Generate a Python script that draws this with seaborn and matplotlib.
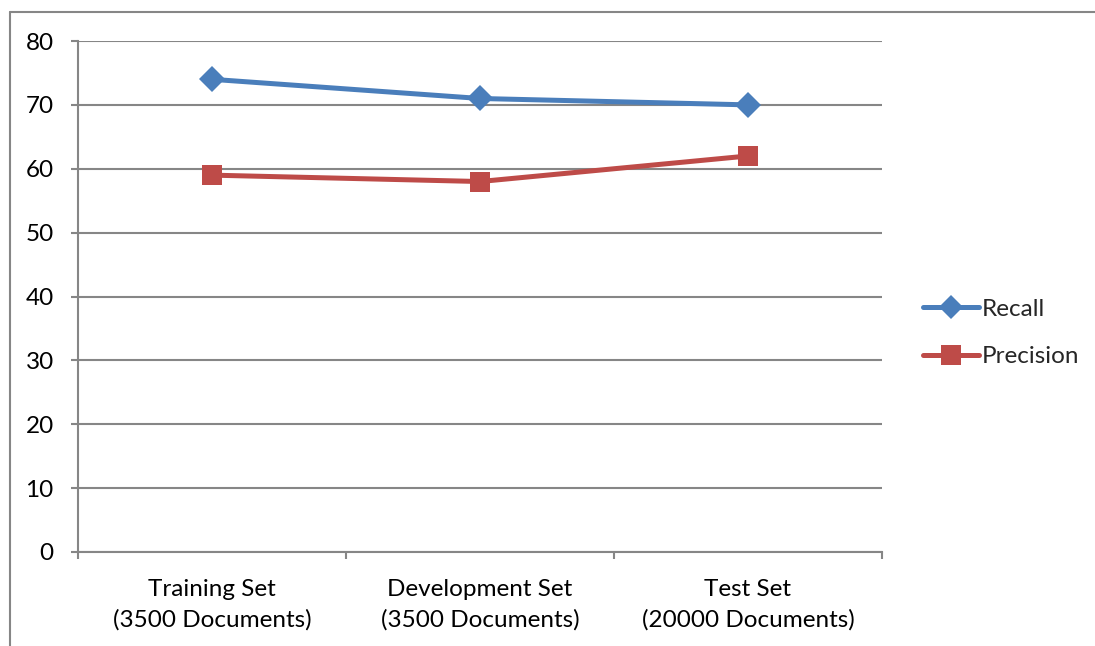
import matplotlib
matplotlib.use("Agg")
import matplotlib.pyplot as plt
import seaborn as sns
import pandas as pd
from matplotlib.lines import Line2D

# Data
categories = ["Training Set\n(3500 Documents)",
              "Development Set\n(3500 Documents)",
              "Test Set\n(20000 Documents)"]
recall = [74, 71, 70]
precision = [59, 58, 62]
y_ticks = [0, 10, 20, 30, 40, 50, 60, 70, 80]

BLUE = "#4A7EBB"
RED = "#BE4B48"
GRID = "#868686"
FS = 17.5

sns.set_theme(style="white")
plt.rcParams["font.family"] = ["Lato", "DejaVu Sans"]

df = pd.DataFrame({
    "pos": [0.5, 1.5, 2.5] * 2,
    "value": recall + precision,
    "Series": ["Recall"] * 3 + ["Precision"] * 3,
})

fig = plt.figure(figsize=(10.95, 6.46), dpi=100)
ax = fig.add_axes([78 / 1095, 94 / 646, 804 / 1095, 511 / 646])

sns.lineplot(data=df, x="pos", y="value", hue="Series", style="Series",
             palette={"Recall": BLUE, "Precision": RED},
             markers={"Recall": "D", "Precision": "s"}, dashes=False,
             linewidth=3.6, markersize=13, markeredgewidth=0,
             legend=False, ax=ax, zorder=3)
# square markers a bit larger than diamonds
for ln in ax.lines:
    if ln.get_marker() == "s":
        ln.set_markersize(14.5)
    else:
        ln.set_markersize(13.5)

ax.set_xlim(0, 3)
ax.set_ylim(0, 80)
ax.set_yticks(y_ticks)
ax.set_yticklabels([str(v) for v in y_ticks])
ax.yaxis.grid(True, color=GRID, linewidth=1.5)
ax.set_axisbelow(True)
ax.set_xticks([0.5, 1.5, 2.5])
ax.set_xticklabels(categories, linespacing=1.52)
ax.set_xticks([0, 1, 2, 3], minor=True)
ax.tick_params(axis="x", which="major", length=0, pad=19.5, labelsize=FS, colors="black")
ax.tick_params(axis="x", which="minor", length=5, width=1.5, color=GRID, direction="out", bottom=True)
ax.tick_params(axis="y", length=5, width=1.5, color=GRID, direction="out", left=True,
               pad=12.5, labelsize=FS, labelcolor="black")
ax.set_xlabel("")
ax.set_ylabel("")

for side in ["top", "right"]:
    ax.spines[side].set_visible(False)
for side in ["left", "bottom"]:
    ax.spines[side].set_color(GRID)
    ax.spines[side].set_linewidth(1.5)

handles = [
    Line2D([], [], color=BLUE, lw=3.6, marker="D", markersize=12, markeredgewidth=0),
    Line2D([], [], color=RED, lw=3.6, marker="s", markersize=14, markeredgewidth=0),
]
fig.legend(handles, ["Recall", "Precision"], loc="center left",
           bbox_to_anchor=(911 / 1095, 1 - 333 / 646), frameon=False,
           fontsize=FS, handlelength=2.3, handletextpad=0.12, labelspacing=1.1,
           borderpad=0)

# chart-area frame
fig.add_artist(Line2D([10 / 1095, 1.0], [1 - 12 / 646] * 2, color=GRID, lw=1.5,
                      transform=fig.transFigure))
fig.add_artist(Line2D([10 / 1095] * 2, [0, 1 - 12 / 646], color=GRID, lw=1.5,
                      transform=fig.transFigure))

fig.savefig("out.png", dpi=100)
